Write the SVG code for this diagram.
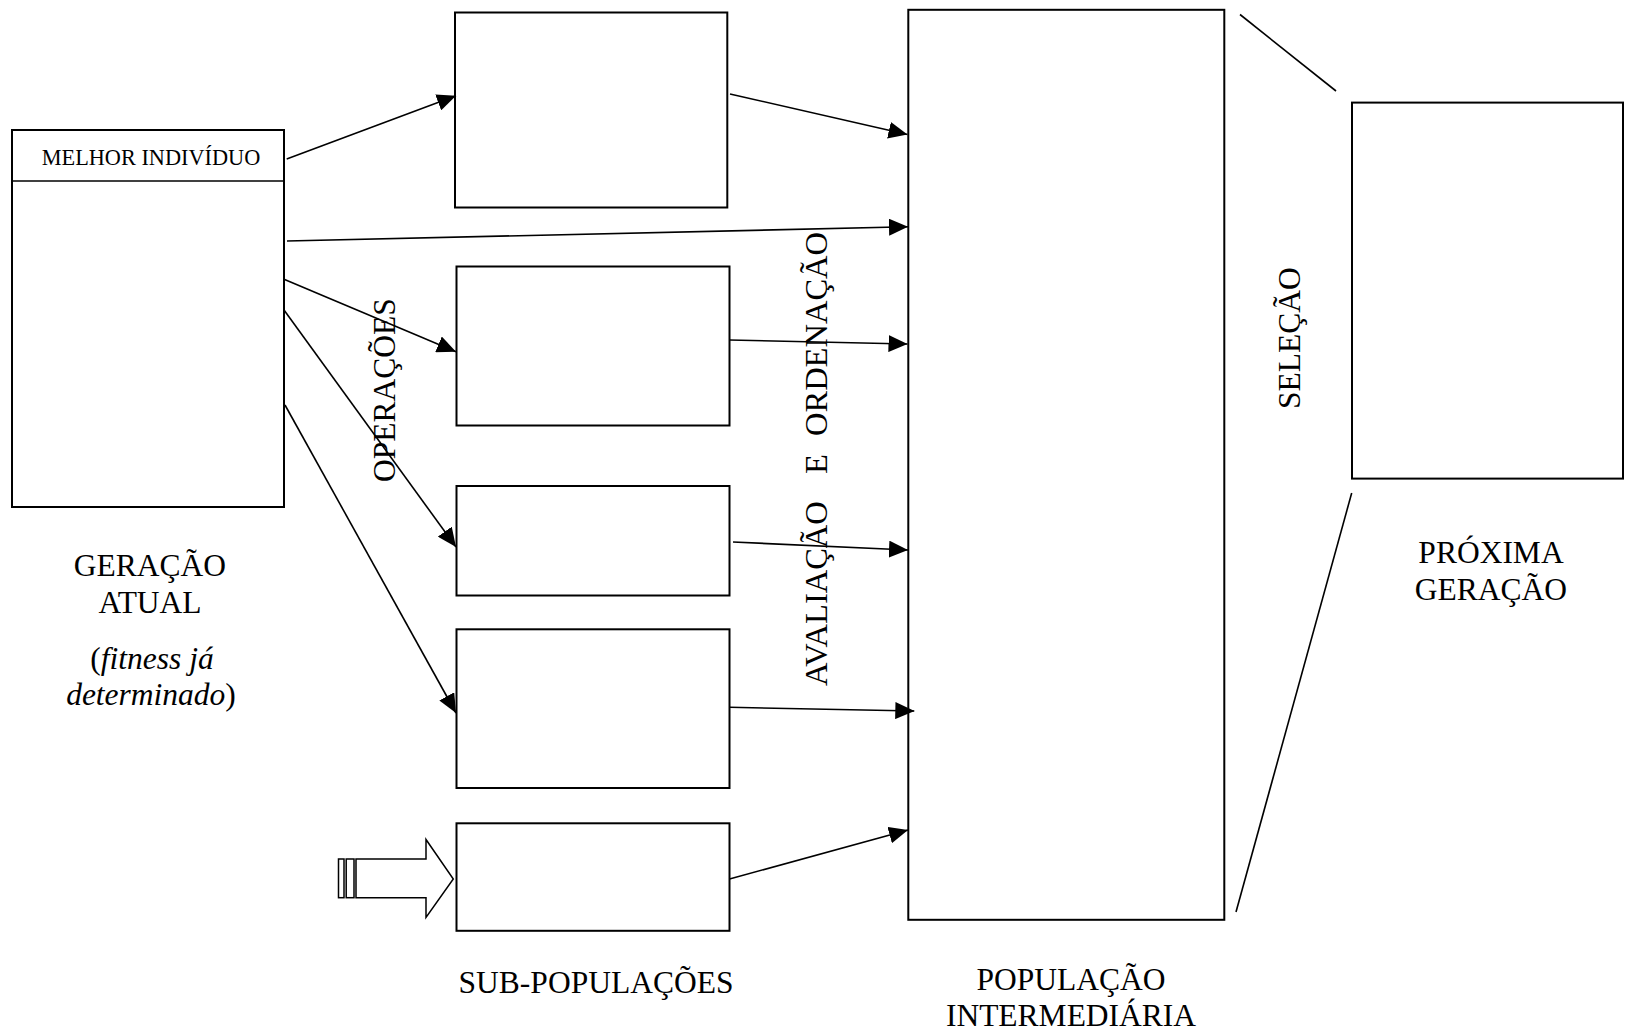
<svg xmlns="http://www.w3.org/2000/svg" width="1625" height="1034" viewBox="0 0 1625 1034">
<style>
.box{fill:#fff;stroke:#000;stroke-width:2}
.ln{fill:none;stroke:#000;stroke-width:1.6}
.arr{fill:none;stroke:#000;stroke-width:1.6;marker-end:url(#ah)}
.t{font-family:"Liberation Serif","Times New Roman",serif;fill:#000}
.lbl{font-size:31.5px;text-anchor:middle}
</style>
<defs>
<marker id="ah" markerUnits="userSpaceOnUse" markerWidth="19" markerHeight="17" refX="19" refY="8.5" orient="auto" viewBox="0 0 19 17">
<path d="M0,0 L19,8.5 L0,17 z" fill="#000"/>
</marker>
</defs>
<rect width="1625" height="1034" fill="#fff"/>

<g id="geracao-atual">
<rect class="box" x="12" y="130" width="272" height="377"/>
<line class="ln" x1="12" y1="181" x2="284" y2="181"/>
<text class="t" x="151" y="165" font-size="22.3" text-anchor="middle">MELHOR INDIVÍDUO</text>
<text class="t lbl" x="150" y="576">GERAÇÃO</text>
<text class="t lbl" x="150" y="613">ATUAL</text>
<text class="t lbl" x="152" y="669">(<tspan font-style="italic">fitness já</tspan></text>
<text class="t lbl" x="151" y="705"><tspan font-style="italic">determinado</tspan>)</text>
</g>

<g id="sub1"><rect class="box" x="455" y="12.5" width="272.3" height="195"/></g>
<g id="sub2"><rect class="box" x="456.5" y="266.5" width="273" height="159"/></g>
<g id="sub3"><rect class="box" x="456.5" y="486" width="273" height="109.5"/></g>
<g id="sub4"><rect class="box" x="456.5" y="629.3" width="273" height="158.7"/></g>
<g id="sub5"><rect class="box" x="456.5" y="823.3" width="273" height="107.5"/></g>
<g id="sub-populacoes-label"><text class="t lbl" x="596" y="992.5">SUB-POPULAÇÕES</text></g>

<g id="entrada">
<rect class="box" x="338.5" y="859" width="5.5" height="38.7" style="stroke-width:1.5"/>
<rect class="box" x="346.2" y="859" width="7.8" height="38.7" style="stroke-width:1.5"/>
<path class="box" style="stroke-width:1.5" d="M356,859 L426,859 L426,839.5 L453.3,879 L426,917.5 L426,897.7 L356,897.7 z"/>
</g>

<g id="populacao-intermediaria">
<rect class="box" x="908.3" y="9.8" width="316" height="910"/>
<text class="t lbl" x="1071" y="990">POPULAÇÃO</text>
<text class="t lbl" x="1071" y="1026">INTERMEDIÁRIA</text>
</g>

<g id="proxima-geracao">
<rect class="box" x="1352" y="102.6" width="271" height="376"/>
<text class="t lbl" x="1491" y="563">PRÓXIMA</text>
<text class="t lbl" x="1491" y="600">GERAÇÃO</text>
</g>

<g id="rotulos">
<text class="t" font-size="31.5" transform="translate(395,482) rotate(-90)">OPERAÇÕES</text>
<text class="t" font-size="32.5" transform="translate(827,686) rotate(-90)"><tspan x="0">AVALIAÇÃO</tspan><tspan x="212">E</tspan><tspan x="250">ORDENAÇÃO</tspan></text>
<text class="t" font-size="31.5" transform="translate(1300,409) rotate(-90)">SELEÇÃO</text>
</g>

<g id="connectors">
<line class="arr" x1="286.7" y1="159" x2="456" y2="95.7"/>
<line class="arr" x1="287" y1="241" x2="908" y2="226.8"/>
<line class="arr" x1="284" y1="279.3" x2="456" y2="351.7"/>
<line class="arr" x1="284" y1="310" x2="456" y2="547"/>
<line class="arr" x1="285" y1="405" x2="456" y2="713"/>
<line class="arr" x1="730" y1="94" x2="907.5" y2="134.5"/>
<line class="arr" x1="729.5" y1="340" x2="907.5" y2="344"/>
<line class="arr" x1="733" y1="542" x2="908" y2="550"/>
<line class="arr" x1="729.5" y1="707.3" x2="914.3" y2="711"/>
<line class="arr" x1="729.5" y1="879" x2="908" y2="830"/>
<line class="ln" x1="1240" y1="14.5" x2="1336" y2="91"/>
<line class="ln" x1="1351.7" y1="493" x2="1236" y2="912"/>
</g>
</svg>
